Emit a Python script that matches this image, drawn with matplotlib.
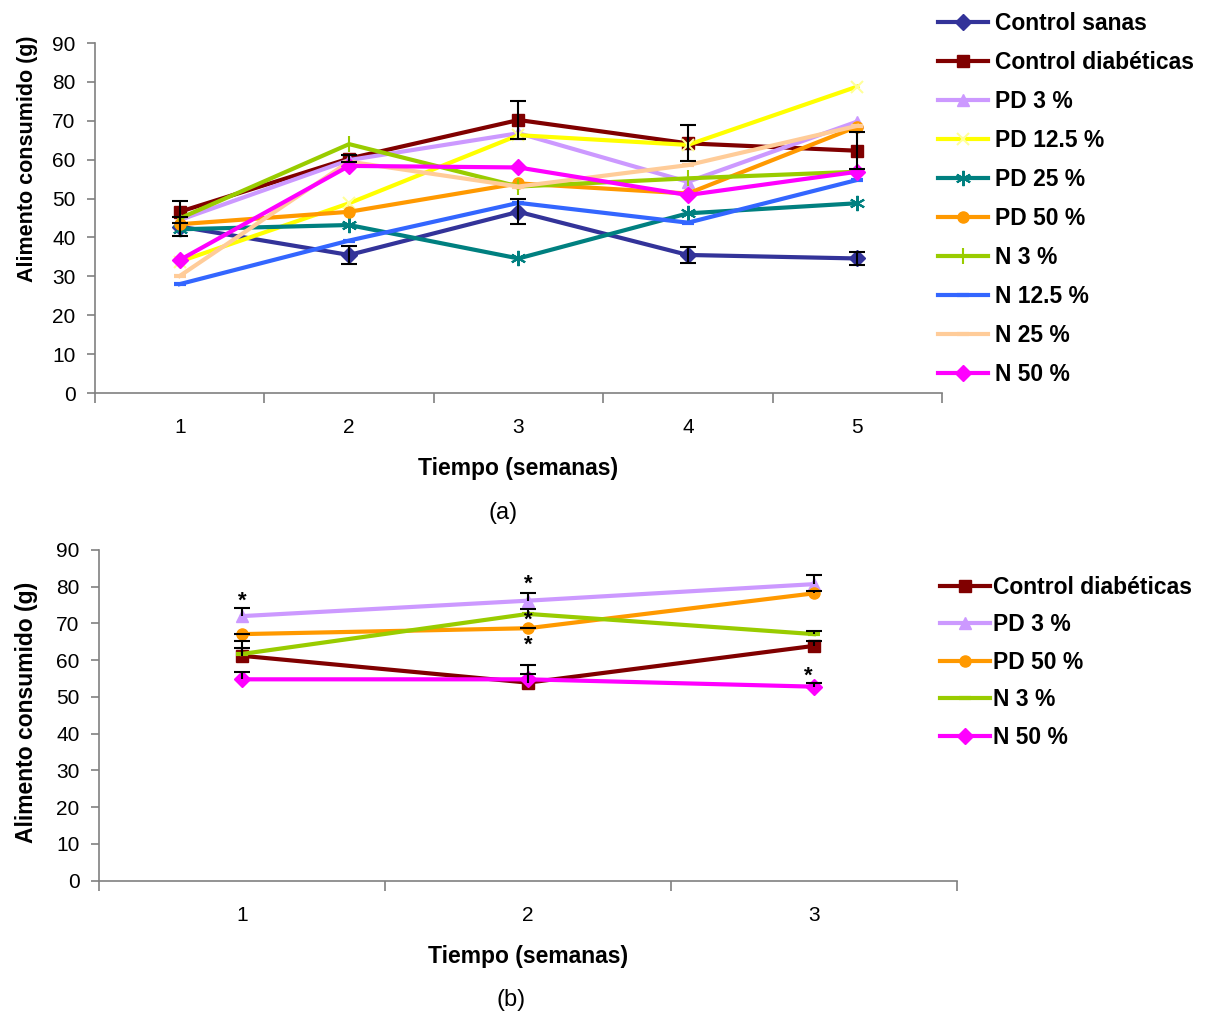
import matplotlib
matplotlib.use('Agg')

import matplotlib.pyplot as plt
import numpy as np

plt.rcParams['font.family'] = ['Liberation Sans', 'DejaVu Sans']

# ---- panel (a) data ----
weeks_a = [1, 2, 3, 4, 5]
names_a = ["Control sanas", "Control diabéticas", "PD 3 %", "PD 12.5 %", "PD 25 %",
           "PD 50 %", "N 3 %", "N 12.5 %", "N 25 %", "N 50 %"]
ctrl_sanas = [42.8, 35.5, 46.6, 35.5, 34.6]
ctrl_diab = [46.6, 60.3, 70.2, 64.2, 62.3]
pd3 = [44.5, 59.9, 66.8, 54.3, 69.8]
pd12 = [33.8, 48.8, 66.3, 63.8, 78.8]
pd25 = [42.1, 43.2, 34.6, 46.2, 48.8]
pd50 = [43.4, 46.6, 53.9, 51.3, 68.5]
n3 = [44.9, 64.0, 53.1, 55.2, 56.9]
n12 = [28.0, 39.2, 48.9, 43.8, 54.8]
n25 = [30.1, 59.5, 53.1, 58.6, 68.7]
n50 = [34.2, 58.4, 58.0, 50.9, 56.9]
ctrl_sanas_err = [2.4, 2.4, 3.2, 2.1, 1.7]
ctrl_diab_err = [2.9, 1.0, 4.8, 4.6, 4.7]

# ---- panel (b) data ----
weeks_b = [1, 2, 3]
names_b = ["Control diabéticas", "PD 3 %", "PD 50 %", "N 3 %", "N 50 %"]
diab_b = [61.2, 53.9, 63.9]
pd3_b = [72.0, 76.2, 80.7]
pd50_b = [67.1, 68.7, 78.2]
n3_b = [61.7, 72.6, 67.1]
n50_b = [54.8, 54.8, 52.8]
diab_b_err = [3.9, 4.8, 1.2]
pd3_b_err = [2.3, 2.2, 2.5]
pd50_b_err = [0.0, 0.0, 0.6]
n3_b_err = [1.5, 1.3, 0.9]
n50_b_err = [1.9, 1.5, 0.9]
# significance marks (week, height)
star_x = [1, 2, 2, 2, 2.98]
star_y = [76.0, 80.8, 70.8, 64.2, 55.6]

colors = {
    "Control sanas": "#333399", "Control diabéticas": "#800000",
    "PD 3 %": "#CC99FF", "PD 12.5 %": "#FFFF00", "PD 25 %": "#008080",
    "PD 50 %": "#FF9900", "N 3 %": "#99CC00", "N 12.5 %": "#3366FF",
    "N 25 %": "#FFCC99", "N 50 %": "#FF00FF",
}
markers = {
    "Control sanas": dict(marker='D', ms=8),
    "Control diabéticas": dict(marker='s', ms=8),
    "PD 3 %": dict(marker='^', ms=9),
    "PD 12.5 %": dict(marker='x', ms=9, mec='#FFFF99', mew=1.5),
    "PD 25 %": dict(marker=(6, 2, 0), ms=11, mew=1.5),
    "PD 50 %": dict(marker='o', ms=8),
    "N 3 %": dict(marker='|', ms=12, mew=1.5),
    "N 12.5 %": dict(marker='_', ms=8, mew=3),
    "N 25 %": dict(marker='_', ms=8, mew=3),
    "N 50 %": dict(marker='D', ms=8),
}

gray = '#808080'
fig = plt.figure(figsize=(12.12, 10.19), dpi=100)


def style_axes(ax, ncat, ylabel_size):
    for s in ['top', 'right']:
        ax.spines[s].set_visible(False)
    for s in ['left', 'bottom']:
        ax.spines[s].set_color(gray)
        ax.spines[s].set_linewidth(1.2)
    ax.set_ylim(0, 90)
    ax.set_yticks(np.arange(0, 91, 10))
    ax.set_xlim(0.5, ncat + 0.5)
    ax.set_xticks(np.arange(1, ncat + 1))
    ax.set_xticks(np.arange(0.5, ncat + 1), minor=True)
    ax.tick_params(axis='x', which='major', length=0, pad=18, labelsize=15)
    ax.tick_params(axis='x', which='minor', length=7, width=1.2, color=gray)
    ax.tick_params(axis='y', length=6, width=1.2, color=gray, pad=8, labelsize=15)
    ax.set_ylabel("Alimento consumido (g)", fontsize=ylabel_size, fontweight='bold')
    ax.set_xlabel("Tiempo (semanas)", fontsize=16.5, fontweight='bold', labelpad=14.5)


# ---- (a) ----
ax1 = fig.add_axes([0.0784, 0.6143, 0.6988, 0.3435])
series_a = [ctrl_sanas, ctrl_diab, pd3, pd12, pd25, pd50, n3, n12, n25, n50]
for name, ys in zip(names_a, series_a):
    ax1.plot(weeks_a, ys, color=colors[name], lw=3, label=name,
             mfc=colors[name], mec=markers[name].get('mec', colors[name]),
             marker=markers[name]['marker'], ms=markers[name]['ms'],
             mew=markers[name].get('mew', 1), zorder=3)
ax1.errorbar(weeks_a, ctrl_sanas, yerr=ctrl_sanas_err, fmt='none', ecolor='black',
             elinewidth=1.5, capsize=6, capthick=1.5, zorder=4)
ax1.errorbar(weeks_a, ctrl_diab, yerr=ctrl_diab_err, fmt='none', ecolor='black',
             elinewidth=1.5, capsize=6, capthick=1.5, zorder=4)
style_axes(ax1, 5, 15.5)
ax1.yaxis.set_label_coords(-0.067, 0.669)
ax1.legend(loc='upper left', bbox_to_anchor=(938 / 1212, 1 - 12 / 1019),
           bbox_transform=fig.transFigure, frameon=False, borderaxespad=0,
           borderpad=0, handlelength=2.2, handletextpad=0.3, labelspacing=0.70,
           prop=dict(size=16.5, weight='bold'))
fig.text(503 / 1212, 1 - 513 / 1019, "(a)", fontsize=17, ha='center', va='center')

# ---- (b) ----
ax2 = fig.add_axes([0.0817, 0.1357, 0.7079, 0.3246])
series_b = [diab_b, pd3_b, pd50_b, n3_b, n50_b]
errs_b = [diab_b_err, pd3_b_err, pd50_b_err, n3_b_err, n50_b_err]
for name, ys in zip(names_b, series_b):
    m = markers[name] if name != "N 3 %" else dict(marker='_', ms=8, mew=3)
    ax2.plot(weeks_b, ys, color=colors[name], lw=3, label=name,
             mfc=colors[name], mec=colors[name], marker=m['marker'], ms=m['ms'],
             mew=m.get('mew', 1), zorder=3)
for ys, es in zip(series_b, errs_b):
    # plus-only error bars
    eb = ax2.errorbar(weeks_b, ys, yerr=[np.zeros(len(es)), es], fmt='none',
                      ecolor='black', elinewidth=1.5, capsize=6, capthick=1.5,
                      zorder=4)
    eb[1][0].set_visible(False)
for sx, sy in zip(star_x, star_y):
    ax2.text(sx, sy, "*", ha='center', va='center', fontsize=16, fontweight='bold')
style_axes(ax2, 3, 16.5)
ax2.yaxis.set_label_coords(-0.071, 0.51)
ax2.legend(loc='upper left', bbox_to_anchor=(940 / 1212, 1 - 576 / 1019),
           bbox_transform=fig.transFigure, frameon=False, borderaxespad=0,
           borderpad=0, handlelength=2.2, handletextpad=0.1, labelspacing=0.63,
           prop=dict(size=16.5, weight='bold'))
fig.text(511 / 1212, 1 - 1000 / 1019, "(b)", fontsize=17, ha='center', va='center')

fig.savefig("out.png", dpi=100)
plt.close(fig)
